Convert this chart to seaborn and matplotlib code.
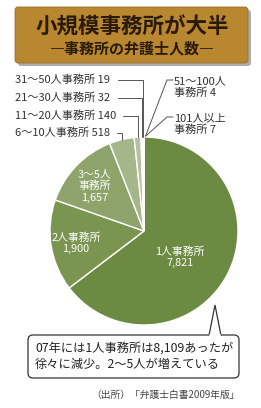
import numpy as np
import matplotlib
matplotlib.use("Agg")
import matplotlib.pyplot as plt
import seaborn as sns
from matplotlib.patches import FancyBboxPatch, Polygon

sns.set_style("white")
plt.rcParams['font.family'] = ['Noto Sans CJK JP', 'DejaVu Sans']

# ---- data ----
categories = ["1人事務所", "2人事務所", "3～5人事務所", "6～10人事務所", "11～20人事務所",
              "21～30人事務所", "31～50人事務所", "51～100人事務所", "101人以上事務所"]
values = [7821, 1900, 1657, 518, 140, 32, 19, 4, 7]
inner_labels = ["1人事務所\n7,821", "2人事務所\n1,900", "3～5人\n事務所\n1,657"]
left_labels = ["31～50人事務所 19", "21～30人事務所 32", "11～20人事務所 140", "6～10人事務所 518"]
right_labels = ["51～100人\n事務所 4", "101人以上\n事務所 7"]
title = "小規模事務所が大半"
subtitle = "―事務所の弁護士人数―"
note = "07年には1人事務所は8,109あったが\n徐々に減少。2～5人が増えている"
source = "（出所）「弁護士白書2009年版」"

colors = ["#6d8a42", "#7a9550", "#8ea46a", "#a5b68b", "#b4c09e",
          "#bcc6a8", "#c4ccb2", "#ccd3bd", "#d3d8c6"]

W, H = 261, 408
fig = plt.figure(figsize=(W / 100, H / 100), dpi=100)
ax = fig.add_axes([0, 0, 1, 1])

def Y(y):
    return H - y

# ---- pie ----
cx, cy, r = 144, Y(231), 94
wedges, _ = ax.pie(values, colors=colors, startangle=90, counterclock=False,
                   center=(cx, cy), radius=r, frame=True,
                   wedgeprops=dict(edgecolor="white", linewidth=1.0))
ax.set_xlim(0, W)
ax.set_ylim(0, H)
ax.axis("off")

# ---- title box ----
ax.add_patch(FancyBboxPatch((18, Y(66)), 233, 56, boxstyle="round,pad=0,rounding_size=3",
                            fc="#8a8a8a", ec="none", alpha=0.7))
ax.add_patch(FancyBboxPatch((15, Y(63)), 233, 56, boxstyle="round,pad=0,rounding_size=3",
                            fc="#b8872f", ec="#9c7024", lw=0.6))
ax.text(132, Y(27), title, ha="center", va="center", fontsize=15.5, fontweight="bold", color="#2a1a08")
ax.text(132, Y(48), subtitle, ha="center", va="center", fontsize=10.8, fontweight="bold", color="#2a1a08")

inner_pos = [(180, 257), (76, 243), (95, 186)]
for (x, y), lab in zip(inner_pos, inner_labels):
    ax.text(x, Y(y), lab, ha="center", va="center", fontsize=7.8, color="white",
            linespacing=1.15)

def edge_point(w):
    th = np.deg2rad((w.theta1 + w.theta2) / 2)
    return cx + r * np.cos(th), cy + r * np.sin(th)

lc = "#555555"
tc = "#333333"
# left labels: 31-50, 21-30, 11-20, 6-10
left_idx = [6, 5, 4, 3]
left_y = [80, 98, 116, 133]
left_x_end = [118, 118, 123, 117]
for i, ly, xe, lab in zip(left_idx, left_y, left_x_end, left_labels):
    ax.text(15, Y(ly), lab, ha="left", va="center", fontsize=8, color=tc)
    px, py = edge_point(wedges[i])
    ax.plot([xe, px, px], [Y(ly), Y(ly), py], color=lc, lw=0.7)

# right labels: 51-100, 101+
right_idx = [7, 8]
right_y = [80, 117]
for i, ly, lab in zip(right_idx, right_y, right_labels):
    ax.text(174, Y(ly + 7), lab, ha="left", va="center", fontsize=8, color=tc,
            linespacing=1.2)
    px, py = edge_point(wedges[i])
    ax.plot([173, 167, px + 2], [Y(ly), Y(ly), py + 1], color=lc, lw=0.7)

# ---- callout ----
box = FancyBboxPatch((28, Y(378)), 211, 43, boxstyle="round,pad=0,rounding_size=5",
                     fc="white", ec="#333333", lw=0.9)
ax.add_patch(box)
ax.add_patch(Polygon([(209, Y(335.5)), (215, Y(305)), (221, Y(335.5))], closed=False,
                     fc="white", ec="#333333", lw=0.9))
ax.plot([209.6, 220.4], [Y(335), Y(335)], color="white", lw=1.4)
ax.text(35, Y(356), note, ha="left", va="center", fontsize=8.8, color="#222222",
        linespacing=1.3)

ax.text(240, Y(395), source, ha="right", va="center", fontsize=7, color="#444444")

fig.savefig("out.png", dpi=100)
